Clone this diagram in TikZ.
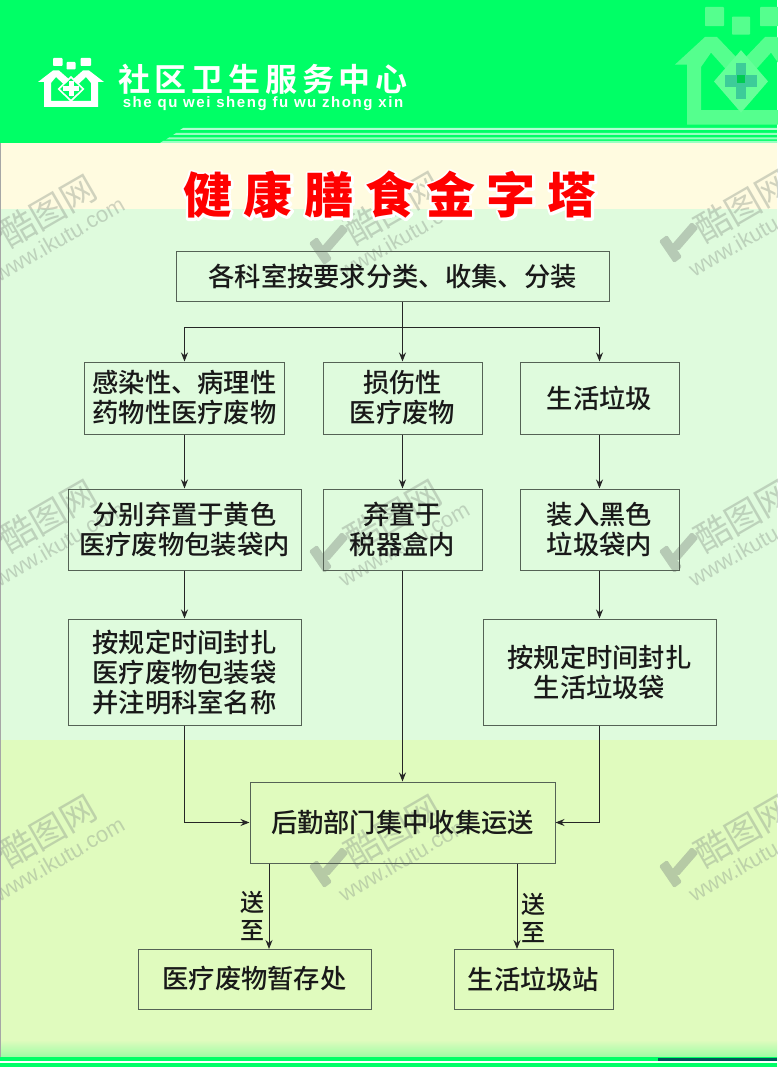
\documentclass[tikz,border=0pt]{standalone}
\usepackage{fontspec}
\usetikzlibrary{arrows.meta}
\setmainfont{Noto Sans CJK SC Medium}[BoldFont={Noto Sans CJK SC Bold}]
\newfontfamily\latinf{Liberation Sans}
\newfontfamily\heavyf{Noto Sans CJK SC Black}
\newfontfamily\lightf{Noto Sans CJK SC}
\definecolor{hdr}{HTML}{00FF66}
\definecolor{cream}{HTML}{FFFBE0}
\definecolor{mint}{HTML}{DFFBDD}
\definecolor{lime}{HTML}{E0FBBE}
\definecolor{ghost}{HTML}{55FF8E}
\definecolor{ghostring}{HTML}{66FF99}
\definecolor{ghostcross}{HTML}{3DCC99}
\definecolor{edgec}{HTML}{556255}
\definecolor{wmc}{HTML}{8A958A}
\newcommand{\bodyfont}{\fontsize{26.3}{30}\selectfont}
\tikzset{
  box/.style={draw=edgec,line width=1pt,inner sep=0pt,align=center,font=\bodyfont,text=black!90},
  conn/.style={draw=black!85,line width=1pt,-{Stealth[length=9pt,width=7pt]}},
  wmtext/.style={text=wmc,opacity=.40,rotate=30,inner sep=0pt},
}
% logo: origin at top centre of the mark
\newcommand{\logomark}[8]{% x,y,xs,ys,body,ring,inner,cross
  \begin{scope}[shift={(#1,#2)},xscale=#3,yscale=#4]
    \fill[#5,rounded corners=.8pt] (-18,0) rectangle (-8.5,8);
    \fill[#5,rounded corners=.8pt] (-4.5,4) rectangle (4.5,11.5);
    \fill[#5,rounded corners=.8pt] (9.5,0) rectangle (20,8);
    \fill[#5,even odd rule,line join=round]
      (-33,24) -- (-18,12.5) -- (-12,12.5) -- (0,23) -- (12,12.5) -- (18,12.5) -- (33,24) -- (27,24) -- (27,49) -- (-27,49) -- (-27,24) -- cycle
      (-20,25) -- (-20,43) -- (20,43) -- (20,25) -- (15,19) -- (0,33) -- (-15,19) -- cycle;
    \fill[#6] (-13.5,31) -- (0,18) -- (13.5,31) -- (0,44) -- cycle;
    \fill[#7] (-11,31) -- (0,20.5) -- (11,31) -- (0,41.5) -- cycle;
    \fill[#8] (-2.5,23.5) rectangle (2.5,38.5);
    \fill[#8] (-8,28.5) rectangle (8,33.5);
  \end{scope}}
\newcommand{\wmtile}[3]{% name,x,y
  \begin{scope}[shift={(#2,#3)}]
    \begin{scope}[transparency group,opacity=.48]
      \fill[wmc,rounded corners=1.5pt] (-21,-2) -- (-13,-8) -- (2,14) -- (-6,20) -- cycle;
      \fill[wmc,rounded corners=1.5pt] (18.4,-15) -- (11.6,-21) -- (-8.4,2) -- (-1.6,8) -- cycle;
    \end{scope}
    \node[wmtext,font=\lightf\fontsize{35}{35}\selectfont] (cn#1) at (63,-37) {酷图网};
    \node[wmtext,font=\latinf\fontsize{22}{22}\selectfont] (en#1) at (74,-9) {www.ikutu.com};
  \end{scope}
}
\newcommand{\haloed}[1]{\rlap{\special{pdf:code q 1 Tr 5 w 1 J 1 j 1 1 1 RG}\textcolor{white}{#1}\special{pdf:code 0 Tr Q}}#1}
\begin{document}
\begin{tikzpicture}[x=1pt,y=-1pt]
\useasboundingbox (0,0) rectangle (777,1067);
% backgrounds
\fill[cream] (0,143) rectangle (777,209);
\fill[mint] (0,209) rectangle (777,740);
\fill[lime] (0,740) rectangle (777,1067);
\shade[top color=lime,bottom color=hdr!30!lime] (0,1040) rectangle (777,1057);
\fill[hdr] (0,0) rectangle (777,143);
\fill[black!35] (0,143) rectangle (1.2,1057);
% footer
\fill[hdr] (0,1057) rectangle (777,1061);
\fill[teal!70!black] (658,1058) rectangle (777,1061);
\fill[white] (0,1061) rectangle (777,1063);
\fill[hdr] (0,1063) rectangle (777,1067);
% logos
\logomark{741}{7}{2}{2.4}{ghost}{ghostring}{ghostring}{ghostcross}
\fill[hdr!80!black] (737,75) rectangle (745,83);
% header stripes
\fill[white!70!hdr] (183,128) -- (777,128) -- (777,130) -- (180,130) -- cycle;
\fill[white!60!hdr] (176,133) -- (777,133) -- (777,135) -- (173,135) -- cycle;
\fill[white!60!hdr] (169,137.5) -- (777,137.5) -- (777,139.5) -- (166,139.5) -- cycle;
\fill[white!60!hdr] (163,141) -- (777,141) -- (777,143) -- (160,143) -- cycle;
\logomark{71}{58}{1}{1}{white}{white}{hdr}{white}
\node[text=white,inner sep=0pt,anchor=center,font=\bfseries\fontsize{32}{32}\selectfont] (brand) at (263,79)
  {\addfontfeature{LetterSpace=15}社区卫生服务中心};
\node[text=white,inner sep=0pt,font=\latinf\bfseries\fontsize{15}{15}\selectfont] (pinyin) at (263,104)
  {\addfontfeature{LetterSpace=10.5}she qu wei sheng fu wu zhong xin};
% watermarks
\wmtile{a}{-15}{248}\wmtile{b}{330}{245}\wmtile{c}{680}{243}
\wmtile{d}{-15}{553}\wmtile{e}{330}{553}\wmtile{f}{680}{553}
\wmtile{g}{-15}{868}\wmtile{h}{330}{868}\wmtile{i}{680}{868}
% title
\node[text=red,inner sep=0pt,font=\heavyf\fontsize{49}{49}\selectfont] (title) at (390,195)
  {\haloed{\addfontfeature{LetterSpace=24}健康膳食金字塔}};
% boxes
\node[box,minimum width=433pt,minimum height=50pt] (top) at (392.5,276) {各科室按要求分类、收集、分装};
\node[box,minimum width=200pt,minimum height=72pt] (b1) at (184.5,398) {感染性、病理性\\药物性医疗废物};
\node[box,minimum width=159pt,minimum height=72pt] (b2) at (402.5,398) {损伤性\\医疗废物};
\node[box,minimum width=159pt,minimum height=72pt] (b3) at (599.5,398) {生活垃圾};
\node[box,minimum width=233pt,minimum height=81pt] (c1) at (184.5,529.5) {分别弃置于黄色\\医疗废物包装袋内};
\node[box,minimum width=159pt,minimum height=81pt] (c2) at (402.5,529.5) {弃置于\\税器盒内};
\node[box,minimum width=159pt,minimum height=81pt] (c3) at (599.5,529.5) {装入黑色\\垃圾袋内};
\node[box,minimum width=233pt,minimum height=106pt] (d1) at (184.5,672) {按规定时间封扎\\医疗废物包装袋\\并注明科室名称};
\node[box,minimum width=233pt,minimum height=106pt] (d3) at (599.5,672) {按规定时间封扎\\生活垃圾袋};
\node[box,minimum width=305pt,minimum height=81pt] (e) at (402.5,822.5) {后勤部门集中收集运送};
\node[box,minimum width=233pt,minimum height=60pt] (f1) at (254.5,979) {医疗废物暂存处};
\node[box,minimum width=159pt,minimum height=60pt] (f2) at (533.5,979) {生活垃圾站};
% connectors
\coordinate (bus) at (402.5,327);
\draw[draw=black!85,line width=1pt] (bus |- top.south) -- (bus);
\draw[conn] (bus) -- (b2.north);
\draw[conn] (bus) -| (b1.north);
\draw[conn] (bus) -| (b3.north);
\draw[conn] (b1.south) -- (c1.north);
\draw[conn] (b2.south) -- (c2.north);
\draw[conn] (b3.south) -- (c3.north);
\draw[conn] (c1.south) -- (d1.north);
\draw[conn] (c3.south) -- (d3.north);
\draw[conn] (c2.south) -- (e.north);
\draw[conn] (d1.south) |- (e.west);
\draw[conn] (d3.south) |- (e.east);
\coordinate (s1) at (269,949);
\coordinate (s2) at (517,949);
\draw[conn] (s1 |- e.south) -- (s1);
\draw[conn] (s2 |- e.south) -- (s2);
\node[font=\fontsize{24}{28}\selectfont,align=center,text=black!90,inner sep=0pt] (l1) at (252,916) {送\\至};
\node[font=\fontsize{24}{28}\selectfont,align=center,text=black!90,inner sep=0pt] (l2) at (533,918) {送\\至};
\end{tikzpicture}
\end{document}
